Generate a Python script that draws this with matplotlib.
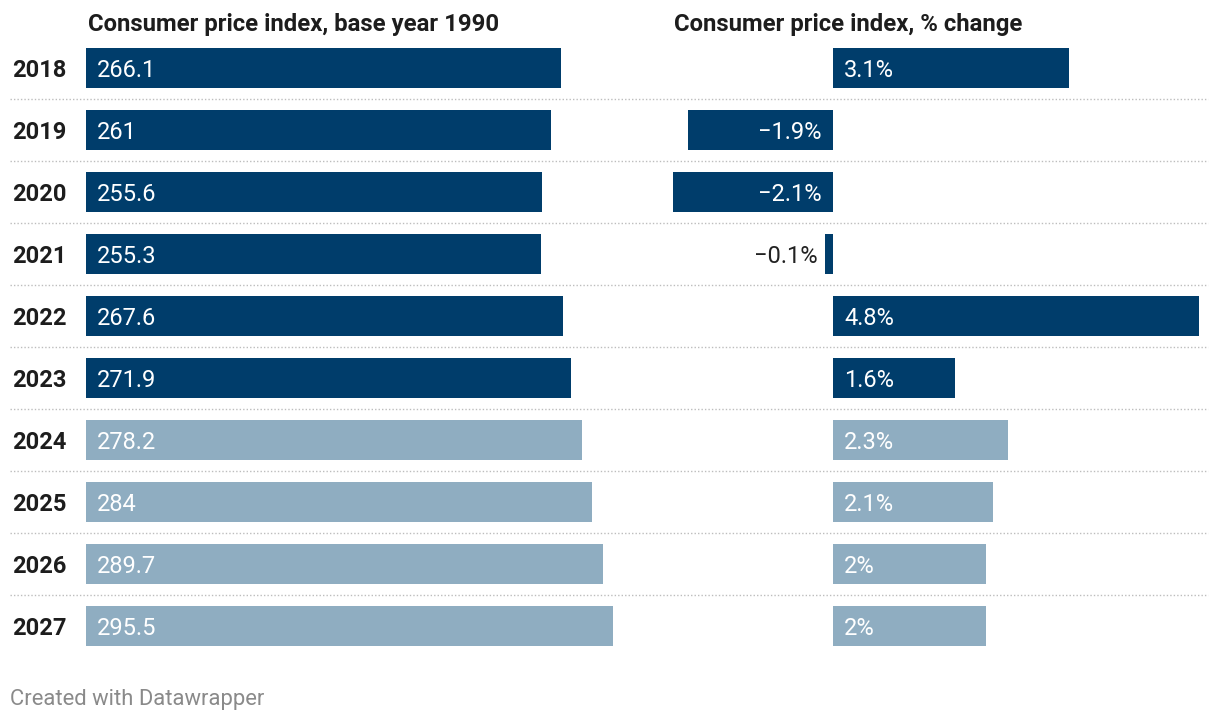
import matplotlib.pyplot as plt
import matplotlib.transforms as mtrans
import numpy as np

plt.rcParams['font.family'] = ['Roboto', 'DejaVu Sans']

# data
years = [2018, 2019, 2020, 2021, 2022, 2023, 2024, 2025, 2026, 2027]
cpi_index = [266.1, 261, 255.6, 255.3, 267.6, 271.9, 278.2, 284, 289.7, 295.5]
cpi_change = [3.1, -1.9, -2.1, -0.1, 4.8, 1.6, 2.3, 2.1, 2, 2]
forecast = [False] * 6 + [True] * 4

dark = '#003d6b'
light = '#8fadc1'
colors = [light if f else dark for f in forecast]

fig = plt.figure(figsize=(12.2, 7.22), dpi=100)
W, H = 1220, 722

def px_axes(x0, x1, y0, y1):
    return fig.add_axes([x0 / W, 1 - y1 / H, (x1 - x0) / W, (y1 - y0) / H])

top, row = 37, 62
bottom = top + row * len(years)
ax1 = px_axes(86, 613, top, bottom)
ax2 = px_axes(673, 1199, top, bottom)

y = np.arange(len(years))
bh = 40 / 62
fs = 17
dy = -1.5  # nudge text down a little

def fmt(v):
    return f"{v:g}".replace('-', '\u2212')

ax1.barh(y, cpi_index, height=bh, color=colors)
ax1.set_xlim(0, max(cpi_index))
for i, v in enumerate(cpi_index):
    ax1.annotate(fmt(v), (0, i), xytext=(8, dy), textcoords='offset points',
                 ha='left', va='center', color='white', fontsize=fs)

ax2.barh(y, cpi_change, height=bh, color=colors)
ax2.set_xlim(min(cpi_change), max(cpi_change))
for i, v in enumerate(cpi_change):
    lab = fmt(v) + '%'
    if v >= 0:
        ax2.annotate(lab, (0, i), xytext=(8, dy), textcoords='offset points',
                     ha='left', va='center', color='white', fontsize=fs)
    elif v < -1:
        ax2.annotate(lab, (0, i), xytext=(-8, dy), textcoords='offset points',
                     ha='right', va='center', color='white', fontsize=fs)
    else:
        ax2.annotate(lab, (v, i), xytext=(-6, dy), textcoords='offset points',
                     ha='right', va='center', color='#222222', fontsize=fs)

for ax in (ax1, ax2):
    ax.set_ylim(len(years) - 0.5, -0.5)
    ax.axis('off')

# dotted separators across the full width
tr = mtrans.blended_transform_factory(fig.transFigure, ax1.transData)
for i in range(len(years) - 1):
    fig.add_artist(plt.Line2D([10 / W, 1208 / W], [i + 0.5, i + 0.5], transform=tr,
                              color='#bdbdbd', lw=1, linestyle=(0, (1, 1.5))))

# year labels
for i, yr in enumerate(years):
    ax1.annotate(str(yr), (12 / W, i), xycoords=tr, xytext=(0, dy), textcoords='offset points',
                 fontsize=fs, fontweight='bold', color='#1d1d1d', ha='left', va='center',
                 annotation_clip=False)

fig.text(88 / W, 1 - 25 / H, 'Consumer price index, base year 1990', fontsize=17.2,
         fontweight='bold', color='#1d1d1d', ha='left', va='center')
fig.text(674 / W, 1 - 25 / H, 'Consumer price index, % change', fontsize=17.2,
         fontweight='bold', color='#1d1d1d', ha='left', va='center')
fig.text(10 / W, 1 - 699 / H, 'Created with Datawrapper', fontsize=15.8,
         color='#8a8a8a', ha='left', va='center')

fig.savefig('out.png', dpi=100, facecolor='white')
